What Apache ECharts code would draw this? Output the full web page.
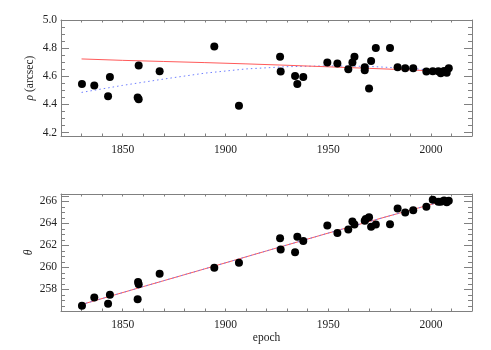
<!DOCTYPE html>
<html><head><meta charset="utf-8">
<script src="https://cdn.jsdelivr.net/npm/echarts@6/dist/echarts.min.js"></script>
<style>html,body{margin:0;padding:0;background:#fff}#c{width:491px;height:350px}</style>
</head><body><div id="c"></div>
<script>
// ---- data ----
const rhoEpoch = [1830.2,1836.2,1842.9,1843.8,1857.8,1857.3,1857.8,1868.0,1894.6,1906.6,1926.6,1926.9,1933.9,1935.0,1937.9,1949.6,1954.5,1959.8,1961.8,1962.8,1967.8,1967.8,1969.9,1970.9,1973.2,1980.1,1983.8,1987.5,1991.4,1997.8,2000.9,2003.6,2004.8,2006.4,2007.7,2008.7];
const rho = [4.545,4.535,4.458,4.595,4.676,4.448,4.436,4.636,4.811,4.390,4.738,4.633,4.602,4.545,4.595,4.697,4.690,4.650,4.697,4.738,4.664,4.643,4.512,4.709,4.800,4.800,4.664,4.657,4.657,4.633,4.635,4.635,4.622,4.638,4.624,4.657];
const thetaEpoch = [1830.2,1836.2,1842.9,1843.8,1857.5,1857.8,1857.3,1868.0,1894.6,1906.6,1926.6,1926.9,1933.9,1935.0,1937.9,1949.6,1954.5,1959.8,1961.8,1962.8,1967.8,1968.3,1969.9,1970.9,1973.2,1980.1,1983.8,1987.5,1991.4,1997.8,2000.9,2003.6,2004.8,2006.4,2007.7,2008.7];
const theta = [256.50,257.27,256.68,257.51,258.67,258.46,257.09,259.43,259.97,260.43,262.66,261.62,261.38,262.80,262.41,263.81,263.14,263.44,264.17,263.90,264.25,264.40,264.57,263.69,263.90,263.93,265.36,265.00,265.21,265.52,266.16,265.97,265.97,266.09,265.94,266.06];
// fitted orbit curves
const fitEpoch = [1830,1850,1870,1890,1910,1930,1950,1970,1990,2009];
const rhoRed = [4.723,4.713,4.705,4.697,4.688,4.678,4.667,4.656,4.645,4.633];
const rhoBlue = [4.485,4.535,4.580,4.622,4.652,4.668,4.674,4.670,4.655,4.635];
const thetaFitEpoch = [1830,1860,1890,1920,1950,1980,2009];
const thetaRed = [256.62,258.25,259.87,261.50,263.12,264.70,266.18];
const thetaBlue = [256.62,258.25,259.87,261.50,263.12,264.70,266.18];
const xTicks = [1850,1900,1950,2000];
const rhoTicks = [4.2,4.4,4.6,4.8,5.0];
const thetaTicks = [258,260,262,264,266];

const pair = (xs, ys) => xs.map((x,i)=>[x,ys[i]]);
const FONT = 'Liberation Serif';
const TXT = '#222';
const AX = '#808080';
const FS = 11.5;

// plot frames (data ranges) and tick-overlay ranges
const P1 = {left:61, top:20, w:411, h:116, min:4.175, max:5.0, tmin:4.2, tmax:5.0, step:0.2};
const P2 = {left:61, top:194, w:411, h:117, min:256.03, max:266.68, tmin:256, tmax:266.5, step:2};
function overlayGrid(P){
  const s = P.h/(P.max-P.min);
  return {left:P.left, width:P.w, top:P.top + (P.max-P.tmax)*s, height:(P.tmax-P.tmin)*s};
}

function xAx(grid, pos, labels){
  return {type:'value', gridIndex:grid, position:pos, min:1820, max:2020, interval:10,
    axisLine:{show:true, lineStyle:{color:AX, width:1}},
    axisTick:{show:true, inside:true, length:2.5, lineStyle:{color:AX}},
    axisLabel:{show:labels, color:TXT, fontFamily:FONT, fontSize:FS, margin:8,
      formatter:v=> xTicks.indexOf(Math.round(v))>=0 ? String(Math.round(v)) : ''},
    splitLine:{show:false}};
}
function yFrame(grid, pos, P){
  return {type:'value', gridIndex:grid, position:pos, min:P.min, max:P.max,
    axisLine:{show:true, onZero:false, lineStyle:{color:AX, width:1}},
    axisTick:{show:false}, axisLabel:{show:false}, splitLine:{show:false}};
}
function yTicks(grid, pos, labels, P, ticks, dec){
  return {type:'value', gridIndex:grid, position:pos, min:P.tmin, max:P.tmax, interval:P.step,
    axisLine:{show:false},
    axisTick:{show:true, inside:true, length:8, lineStyle:{color:AX}},
    minorTick:{show:true, splitNumber:4, length:4, lineStyle:{color:AX}},
    axisLabel:{show:labels, color:TXT, fontFamily:FONT, fontSize:FS, margin:4,
      formatter:v=> ticks.some(t=>Math.abs(t-v)<1e-6) ? v.toFixed(dec) : ''},
    splitLine:{show:false}};
}
const hiddenX = g => ({type:'value', gridIndex:g, min:1820, max:2020, show:false});

const chart = echarts.init(document.getElementById('c'), null, {renderer:'canvas'});
const yTop = yFrame(0,'left',P1);
yTop.name = '{i|ρ} (arcsec)'; yTop.nameLocation='middle'; yTop.nameGap=25;
yTop.nameTextStyle={color:TXT, fontFamily:FONT, fontSize:FS, rich:{i:{fontStyle:'italic', fontFamily:FONT, fontSize:FS, color:TXT}}};
const yBot = yFrame(1,'left',P2);
yBot.name = 'θ'; yBot.nameLocation='middle'; yBot.nameGap=26;
yBot.nameTextStyle={color:TXT, fontFamily:FONT, fontSize:FS, fontStyle:'italic'};
const xBot = xAx(1,'bottom',true);
xBot.name='epoch'; xBot.nameLocation='middle'; xBot.nameGap=20;
xBot.nameTextStyle={color:TXT, fontFamily:FONT, fontSize:FS};

chart.setOption({
  animation:false,
  backgroundColor:'#fff',
  grid:[{left:P1.left, top:P1.top, width:P1.w, height:P1.h},
        {left:P2.left, top:P2.top, width:P2.w, height:P2.h},
        overlayGrid(P1), overlayGrid(P2)],
  xAxis:[xAx(0,'bottom',true), xAx(0,'top',false), xBot, xAx(1,'top',false), hiddenX(2), hiddenX(3)],
  yAxis:[yTop, yFrame(0,'right',P1), yBot, yFrame(1,'right',P2),
         yTicks(2,'left',true,P1,rhoTicks,1), yTicks(2,'right',false,P1,rhoTicks,1),
         yTicks(3,'left',true,P2,thetaTicks,0), yTicks(3,'right',false,P2,thetaTicks,0)],
  series:[
    {type:'line', xAxisIndex:0, yAxisIndex:0, data:pair(fitEpoch,rhoBlue), showSymbol:false, symbol:'none',
      lineStyle:{color:'#6f7fff', width:1, type:[1.5,3]}, z:2},
    {type:'line', xAxisIndex:0, yAxisIndex:0, data:pair(fitEpoch,rhoRed), showSymbol:false, symbol:'none',
      lineStyle:{color:'#ff5a5a', width:1}, z:2},
    {type:'scatter', xAxisIndex:0, yAxisIndex:0, data:pair(rhoEpoch,rho), symbol:'circle', symbolSize:8,
      itemStyle:{color:'#000', opacity:1}, z:3},
    {type:'line', xAxisIndex:2, yAxisIndex:2, data:pair(thetaFitEpoch,thetaRed), showSymbol:false, symbol:'none',
      lineStyle:{color:'#ff5a5a', width:1}, z:2},
    {type:'line', xAxisIndex:2, yAxisIndex:2, data:pair(thetaFitEpoch,thetaBlue), showSymbol:false, symbol:'none',
      lineStyle:{color:'#6f7fff', width:1, type:[1.5,3]}, z:2},
    {type:'scatter', xAxisIndex:2, yAxisIndex:2, data:pair(thetaEpoch,theta), symbol:'circle', symbolSize:8,
      itemStyle:{color:'#000', opacity:1}, z:3}
  ]
});
</script></body></html>
